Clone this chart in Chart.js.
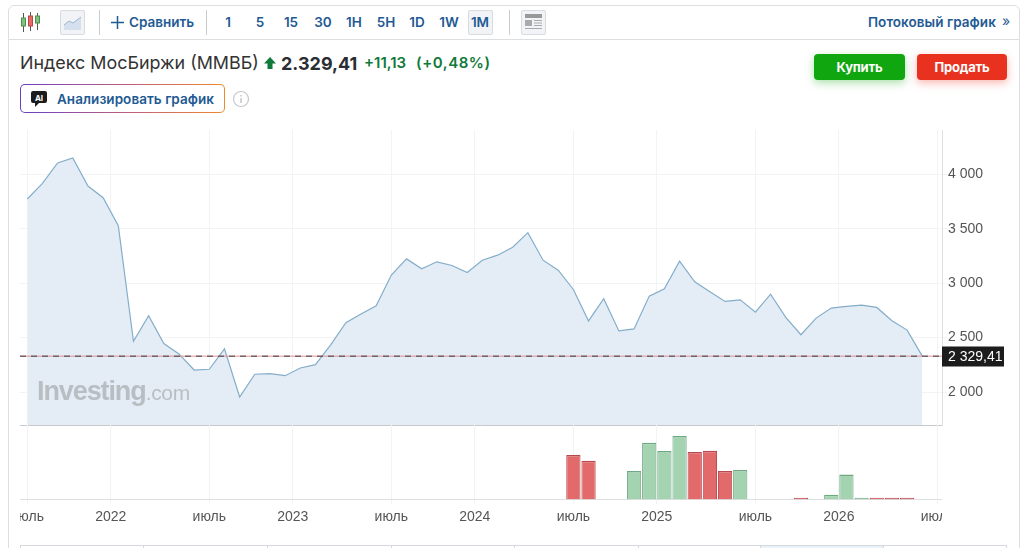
<!DOCTYPE html>
<html lang="ru">
<head>
<meta charset="utf-8">
<title>Индекс МосБиржи (ММВБ)</title>
<script src="https://cdn.jsdelivr.net/npm/chart.js@4"></script>
<style>
    html, body { margin: 0; padding: 0; background: #fff; overflow: hidden; }
    body { width: 1027px; height: 548px; position: relative; font-family: Inter, 'Noto Sans', sans-serif; color: #333; }
    .abs { position: absolute; white-space: nowrap; }
    .panel { left: 8px; top: 5px; width: 1010px; height: 560px; border: 1px solid #dcdfe2; border-radius: 6px; box-sizing: content-box; }
    .hline { left: 9px; top: 39px; width: 1010px; height: 1px; background: #dcdfe2; }
    .sep { top: 10px; width: 1px; height: 25px; background: #c9ccd0; }
    .link { color: #1f5a93; font-weight: 600; font-size: 13.5px; line-height: 16px; }
    .tf { top: 14px; width: 30px; margin-left: -15px; text-align: center; }
    .box { background: #f1f3f6; border: 1px solid #d8dbdf; border-radius: 2px; box-sizing: border-box; }
    .buy, .sell { top: 54px; width: 90px; height: 26px; line-height: 26px; border-radius: 4px; color: #fff; font-weight: 700; font-size: 13px; text-align: center; letter-spacing: -.2px; }
    .buy { left: 814px; background: #0fa60f; box-shadow: 0 3px 8px rgba(15,166,15,.35); }
    .sell { left: 917px; background: #e8321f; box-shadow: 0 3px 8px rgba(232,50,31,.35); }
    .ai { left: 20px; top: 84px; width: 205px; height: 29px; border-radius: 5px; border: 1px solid transparent; box-sizing: border-box;
          background: linear-gradient(#fff, #fff) padding-box, linear-gradient(90deg, #6a3fc4, #c2607a 55%, #ef8a2a) border-box; }
    canvas { position: absolute; display: block; }
    .wm { left: 37px; top: 375px; color: #b9bec3; font: 700 27px/32px 'Liberation Sans', sans-serif; letter-spacing: -1.1px; }
    .wm span { font-weight: 400; font-size: 21px; letter-spacing: -.3px; }
    .tab { top: 545px; height: 10px; border: 1px solid #d5d8dc; box-sizing: border-box; }
</style>
</head>
<body>
<div class="abs panel"></div>
<div class="abs hline"></div>

<svg class="abs" style="left:20px;top:11px" width="22" height="22" viewBox="0 0 22 22">
    <path d="M3.5 2v19M10.5 1v19M17.5 2v17" stroke="#555" stroke-width="1"/>
    <rect x="1.5" y="7" width="4" height="8" fill="#7fc27f" stroke="#4d8f4d"/>
    <rect x="8.5" y="5" width="4" height="10" fill="#e66a6a" stroke="#b44"/>
    <rect x="15.5" y="5" width="4" height="7" fill="#7fc27f" stroke="#4d8f4d"/>
</svg>
<div class="abs box" style="left:60px;top:10px;width:25px;height:25px"></div>
<svg class="abs" style="left:63px;top:15px" width="20" height="16" viewBox="0 0 20 16">
    <path d="M1 10 L6 6 L10 8 L18 2 V15 H1 Z" fill="#d5e0ee"/>
    <path d="M1 10 L6 6 L10 8 L18 2" fill="none" stroke="#9db5cf"/>
</svg>
<div class="abs sep" style="left:99px"></div>
<svg class="abs" style="left:111px;top:16px" width="13" height="13" viewBox="0 0 13 13">
    <path d="M6.5 0v13M0 6.5h13" stroke="#1f5a93" stroke-width="1.5"/>
</svg>
<div class="abs link" style="left:129px;top:14px">Сравнить</div>
<div class="abs sep" style="left:206px"></div>
<div class="abs box" style="left:468px;top:10px;width:25px;height:25px"></div>
<div class="abs link tf" style="left:228px">1</div>
<div class="abs link tf" style="left:260px">5</div>
<div class="abs link tf" style="left:291px">15</div>
<div class="abs link tf" style="left:323px">30</div>
<div class="abs link tf" style="left:354px">1H</div>
<div class="abs link tf" style="left:386px">5H</div>
<div class="abs link tf" style="left:417px">1D</div>
<div class="abs link tf" style="left:449px">1W</div>
<div class="abs link tf" style="left:480px">1M</div>
<div class="abs sep" style="left:509px"></div>
<div class="abs box" style="left:521px;top:10px;width:25px;height:25px"></div>
<svg class="abs" style="left:525px;top:14px" width="17" height="17" viewBox="0 0 17 17">
    <rect x="0" y="0" width="17" height="4" fill="#999"/>
    <rect x="0" y="6" width="7" height="6" fill="#aaa"/>
    <path d="M9 6.5h8M9 9h8M9 11.5h8M0 14.5h17" stroke="#aaa"/>
</svg>
<div class="abs link" style="left:868px;top:14px;letter-spacing:.05px">Потоковый график</div>
<div class="abs" style="left:1002px;top:13px;color:#1f5a93;font-size:14px;line-height:16px">»</div>

<div class="abs" style="left:20px;top:52px;font-size:17.9px;line-height:22px;color:#333">Индекс МосБиржи (ММВБ)</div>
<svg class="abs" style="left:264px;top:57px" width="12" height="12" viewBox="0 0 12 12">
    <path d="M6 0 L12 6.5 H8.5 V12 H3.5 V6.5 H0 Z" fill="#0f7a3a"/>
</svg>
<div class="abs" style="left:281px;top:52px;font-size:18px;line-height:23px;font-weight:700;color:#2a2e33">2.329,41</div>
<div class="abs" style="left:364px;top:53px;font-size:15px;line-height:19px;font-weight:600;color:#0f7a3a">+11,13</div>
<div class="abs" style="left:416px;top:53px;font-size:15px;line-height:19px;font-weight:600;color:#0f7a3a;letter-spacing:.55px">(+0,48%)</div>

<div class="abs ai"></div>
<svg class="abs" style="left:30px;top:90px" width="18" height="18" viewBox="0 0 18 18">
    <path d="M3 1 H15 a2 2 0 0 1 2 2 V11 a2 2 0 0 1 -2 2 H9 L5 17 V13 H3 a2 2 0 0 1 -2 -2 V3 a2 2 0 0 1 2 -2 Z" fill="#1c1c1c"/>
    <text x="9" y="10.5" font-size="8" font-weight="700" fill="#fff" text-anchor="middle" font-family="Inter">AI</text>
</svg>
<div class="abs link" style="left:57px;top:91px;letter-spacing:.05px">Анализировать график</div>
<svg class="abs" style="left:232px;top:90px" width="18" height="18" viewBox="0 0 18 18">
    <circle cx="9" cy="9" r="7.5" fill="none" stroke="#c4c7cb" stroke-width="1.2"/>
    <path d="M9 8v5M9 5v1.5" stroke="#b5b8bc" stroke-width="1.2"/>
</svg>
<div class="abs buy" style="width:91px">Купить</div>
<div class="abs sell">Продать</div>

<canvas id="priceChart" width="1000" height="296" style="left:20px;top:130px"></canvas>
<canvas id="volumeChart" width="922" height="100" style="left:20px;top:425px"></canvas>
<div class="abs wm">Investing<span>.com</span></div>

<div class="abs tab" style="left:20px;width:124px"></div>
<div class="abs tab" style="left:143px;width:125px"></div>
<div class="abs tab" style="left:267px;width:125px"></div>
<div class="abs tab" style="left:391px;width:124px"></div>
<div class="abs tab" style="left:514px;width:125px"></div>
<div class="abs tab" style="left:638px;width:123px"></div>
<div class="abs tab" style="left:760px;width:124px;background:#eaf1f8"></div>
<div class="abs tab" style="left:883px;width:124px"></div>

<script>
// значения, один бар = один месяц
const closes = [
    3773, 3917, 4104, 4150, 3892, 3785, 3527, 2466, 2702, 2445,
    2350, 2202, 2209, 2396, 1954, 2163, 2169, 2150, 2221, 2251,
    2433, 2637, 2717, 2793, 3074, 3223, 3132, 3196, 3162, 3098,
    3211, 3257, 3330, 3464, 3211, 3119, 2942, 2653, 2857, 2561,
    2580, 2881, 2949, 3202, 3012, 2920, 2832, 2847, 2734, 2899,
    2685, 2526, 2679, 2771, 2786, 2798, 2777, 2654, 2569, 2329.41
];
const volumes = [
    null, null, null, null, null, null, null, null, null, null,
    null, null, null, null, null, null, null, null, null, null,
    null, null, null, null, null, null, null, null, null, null,
    null, null, null, null, null, null, 133, 116, null, null,
    85, 170, 145, 190, 142, 146, 85, 88, null, null,
    null, 5, null, 14, 75, 5, 5, 5, 5, null
];
// true = зелёный бар
const volumeUp = [
    false, false, false, false, false, false, false, false, false, false,
    false, false, false, false, false, false, false, false, false, false,
    false, false, false, false, false, false, false, false, false, false,
    false, false, false, false, false, false, false, false, false, false,
    true, true, true, true, false, false, false, true, false, false,
    false, false, false, true, true, true, false, false, false, false
];
const xTickBars = [0, 5.5, 12, 17.5, 24, 29.5, 36, 41.5, 48, 53.5, 60];
const xTickLabels = ['июль', '2022', 'июль', '2023', 'июль', '2024', 'июль', '2025', 'июль', '2026', 'июль'];
const priceTicks = [2000, 2500, 3000, 3500, 4000];
const lastPrice = 2329.41;
const lastPriceLabel = '2 329,41';

const colors = {
    line: '#84adca',
    area: '#e4edf5',
    grid: '#f2f3f5',
    axis: '#dddfe2',
    text: '#555',
    up: '#a3d3b0',
    upBorder: '#6ea983',
    down: '#e26a6a',
    downBorder: '#b8484f'
};
const xRange = { min: -0.48, max: 60.3 };
const axisFont = { family: "'Liberation Sans', Arial, sans-serif", size: 14 };

Chart.defaults.font.family = axisFont.family;
Chart.defaults.animation = false;

const setBarTicks = (scale) => { scale.ticks = xTickBars.map(value => ({ value })); };
const labelForBar = (value) => xTickLabels[xTickBars.indexOf(value)];

// чёрная плашка с последней ценой
const lastPriceBadge = {
    id: 'lastPriceBadge',
    afterDraw(chart) {
        const { ctx, chartArea, scales: { y } } = chart;
        const py = Math.round(y.getPixelForValue(lastPrice));
        ctx.save();
        ctx.fillStyle = '#1c1c1c';
        ctx.fillRect(chartArea.right, py - 9.5, 62, 20);
        ctx.fillStyle = '#fff';
        ctx.font = `14px ${axisFont.family}`;
        ctx.textBaseline = 'middle';
        ctx.fillText(lastPriceLabel, chartArea.right + 6, py + 1);
        ctx.restore();
    }
};

new Chart(document.getElementById('priceChart'), {
    type: 'line',
    plugins: [lastPriceBadge],
    data: {
        datasets: [
            {
                data: [{ x: xRange.min, y: lastPrice }, { x: xRange.max, y: lastPrice }],
                borderColor: '#333a44',
                borderWidth: 1,
                borderDash: [6, 5],
                pointRadius: 0
            },
            {
                data: [{ x: xRange.min, y: lastPrice }, { x: xRange.max, y: lastPrice }],
                borderColor: '#e58f8f',
                borderWidth: 1,
                pointRadius: 0
            },
            {
                data: closes.map((y, x) => ({ x, y })),
                borderColor: colors.line,
                backgroundColor: colors.area,
                borderWidth: 1.2,
                fill: 'start',
                tension: 0,
                pointRadius: 0
            }
        ]
    },
    options: {
        responsive: false,
        layout: { padding: 0 },
        plugins: { legend: { display: false }, tooltip: { enabled: false } },
        scales: {
            x: {
                type: 'linear',
                min: xRange.min,
                max: xRange.max,
                afterBuildTicks: setBarTicks,
                afterFit(scale) { scale.height = 1; scale.paddingLeft = 0; scale.paddingRight = 0; },
                ticks: { display: false, autoSkip: false },
                grid: { color: colors.grid, drawTicks: false },
                border: { color: '#c6cacd', width: 1 }
            },
            y: {
                position: 'right',
                min: 1697,
                max: 4407,
                afterBuildTicks(scale) { scale.ticks = priceTicks.map(value => ({ value })); },
                afterFit(scale) { scale.width = 78; scale.paddingTop = 0; scale.paddingBottom = 0; },
                ticks: {
                    color: colors.text,
                    font: axisFont,
                    padding: 1,
                    callback: (v) => String(v).replace(/(\d)(\d{3})$/, '$1 $2')
                },
                grid: { color: colors.grid, tickLength: 5 },
                border: { color: colors.axis }
            }
        }
    }
});

new Chart(document.getElementById('volumeChart'), {
    type: 'bar',
    data: {
        datasets: [{
            data: volumes.map((y, x) => ({ x, y })),
            backgroundColor: volumeUp.map(up => up ? colors.up : colors.down),
            borderColor: volumeUp.map(up => up ? colors.upBorder : colors.downBorder),
            borderWidth: { top: 1.5, left: 1, right: 1, bottom: 0 },
            barPercentage: 0.94,
            categoryPercentage: 1
        }]
    },
    options: {
        responsive: false,
        layout: { padding: 0 },
        plugins: { legend: { display: false }, tooltip: { enabled: false } },
        scales: {
            x: {
                type: 'linear',
                offset: false,
                min: xRange.min,
                max: xRange.max,
                afterBuildTicks: setBarTicks,
                afterFit(scale) { scale.height = 25.5; scale.paddingLeft = 0; scale.paddingRight = 0; },
                ticks: {
                    autoSkip: false,
                    maxRotation: 0,
                    color: colors.text,
                    font: axisFont,
                    padding: 4,
                    callback: labelForBar
                },
                grid: { offset: false, color: colors.grid, tickLength: 5 },
                border: { color: colors.axis }
            },
            y: { display: false, min: 0, max: 223 }
        }
    }
});
</script>
</body>
</html>
